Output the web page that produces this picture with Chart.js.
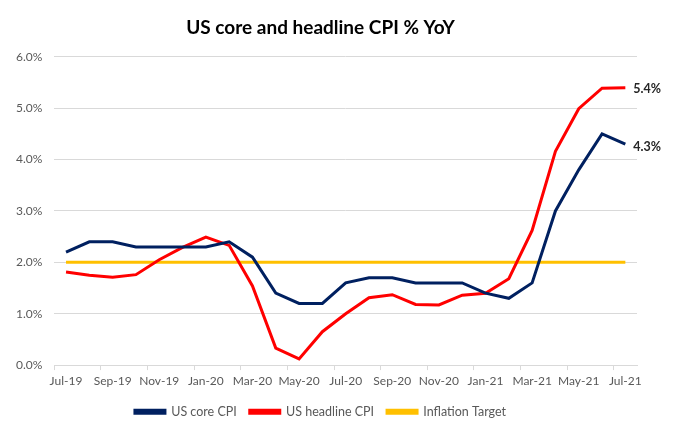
<!DOCTYPE html>
<html>
<head>
<meta charset="utf-8">
<script src="https://cdn.jsdelivr.net/npm/chart.js@4.4.0/dist/chart.umd.min.js"></script>
<style>
  html, body { margin: 0; padding: 0; background: #ffffff; }
  #wrap { width: 680px; height: 427px; position: relative; }
</style>
</head>
<body>
<div id="wrap"><canvas id="c" width="680" height="427"></canvas></div>
<script>
const months = ["Jul-19","Aug-19","Sep-19","Oct-19","Nov-19","Dec-19","Jan-20","Feb-20","Mar-20","Apr-20","May-20","Jun-20",
  "Jul-20","Aug-20","Sep-20","Oct-20","Nov-20","Dec-20","Jan-21","Feb-21","Mar-21","Apr-21","May-21","Jun-21","Jul-21"];
const coreCPI = [2.2,2.4,2.4,2.3,2.3,2.3,2.3,2.4,2.1,1.4,1.2,1.2,1.6,1.7,1.7,1.6,1.6,1.6,1.4,1.3,1.6,3.0,3.8,4.5,4.3];
const headlineCPI = [1.81,1.75,1.71,1.76,2.05,2.29,2.49,2.33,1.54,0.33,0.12,0.65,1.0,1.31,1.37,1.18,1.17,1.36,1.4,1.68,2.62,4.16,4.99,5.39,5.40];
const inflationTarget = [2,2,2,2,2,2,2,2,2,2,2,2,2,2,2,2,2,2,2,2,2,2,2,2,2];
const yTicks = [0,1,2,3,4,5,6];

const FONT = "Lato, 'Liberation Sans', sans-serif";
const GREY = '#595959';

const endLabels = {
  id: 'endLabels',
  afterDatasetsDraw(chart) {
    const ctx = chart.ctx;
    const xs = chart.scales.x, ys = chart.scales.y;
    const last = months.length - 1;
    const items = [[headlineCPI[last], 1], [coreCPI[last], 3]];
    ctx.save();
    ctx.font = "bold 12.5px " + FONT;
    ctx.fillStyle = '#262626';
    ctx.textBaseline = 'middle';
    ctx.textAlign = 'left';
    items.forEach(([v, dy]) => {
      const x = xs.getPixelForValue(last) + 8;
      const y = ys.getPixelForValue(v) + dy;
      ctx.fillText(v.toFixed(1) + '%', x, y);
    });
    ctx.restore();
  }
};

new Chart(document.getElementById('c'), {
  type: 'line',
  data: {
    labels: months,
    datasets: [
      { label: 'US core CPI', data: coreCPI, borderColor: '#002060', backgroundColor: '#002060', borderWidth: 3, pointRadius: 0, tension: 0 },
      { label: 'US headline CPI', data: headlineCPI, borderColor: '#FF0000', backgroundColor: '#FF0000', borderWidth: 3, pointRadius: 0, tension: 0 },
      { label: 'Inflation Target', data: inflationTarget, borderColor: '#FFC000', backgroundColor: '#FFC000', borderWidth: 3, pointRadius: 0, tension: 0 }
    ]
  },
  options: {
    responsive: false,
    animation: false,
    events: [],
    layout: { padding: { left: 4, right: 43, top: 6, bottom: -1 } },
    plugins: {
      title: {
        display: true,
        text: 'US core and headline CPI % YoY',
        font: { family: FONT, size: 19, weight: 'bold' },
        color: '#000000',
        padding: { top: 10, bottom: 18 }
      },
      legend: {
        position: 'bottom',
        labels: {
          font: { family: FONT, size: 12.5 },
          color: GREY,
          boxWidth: 30,
          boxHeight: 3,
          padding: 13
        }
      },
      tooltip: { enabled: false }
    },
    scales: {
      x: {
        offset: true,
        grid: {
          offset: true,
          drawOnChartArea: false,
          tickLength: 5,
          tickColor: (c) => (c.index % 2 === 0 ? '#d9d9d9' : 'rgba(0,0,0,0)')
        },
        border: { display: true, color: '#d9d9d9' },
        ticks: {
          autoSkip: false,
          maxRotation: 0,
          minRotation: 0,
          font: { family: FONT, size: 12 },
          color: GREY,
          padding: 4,
          callback: function (v, i) { return i % 2 === 0 ? months[i] : ''; }
        }
      },
      y: {
        min: yTicks[0],
        max: yTicks[yTicks.length - 1],
        afterBuildTicks: (s) => { s.ticks = yTicks.map(v => ({ value: v })); },
        grid: { color: '#d9d9d9', drawTicks: false },
        border: { display: false },
        ticks: {
          font: { family: FONT, size: 12 },
          color: GREY,
          padding: 12,
          callback: (v) => v.toFixed(1) + '%'
        }
      }
    }
  },
  plugins: [endLabels]
});
</script>
</body>
</html>
